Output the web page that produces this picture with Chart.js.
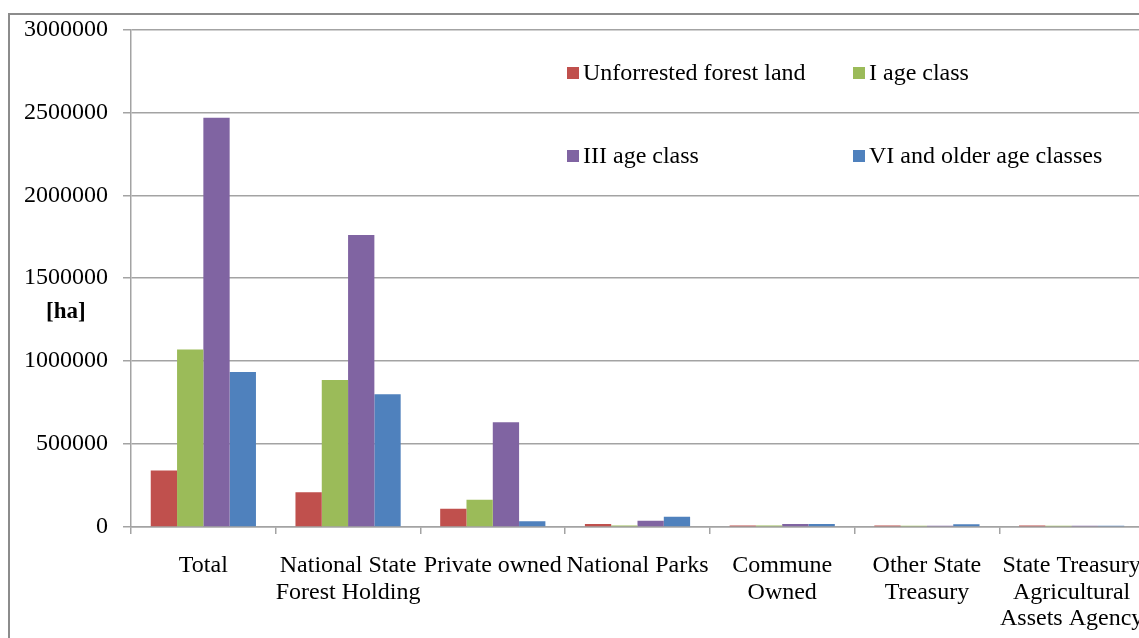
<!DOCTYPE html>
<html>
<head>
<meta charset="utf-8">
<script src="https://cdn.jsdelivr.net/npm/chart.js@4.4.1/dist/chart.umd.min.js"></script>
<style>
  html, body { margin: 0; padding: 0; background: #fff; overflow: hidden; width: 1139px; height: 638px; }
  #frame { position: absolute; left: 8px; top: 13px; width: 2000px; height: 2000px;
           border-left: 2px solid #8c8c8c; border-top: 2px solid #8c8c8c; }
  #wrap { position: absolute; left: 0; top: 0; width: 1200px; height: 638px; }
</style>
</head>
<body>
<div id="frame"></div>
<div id="wrap"><canvas id="c" width="1200" height="638"></canvas></div>
<script>
// Forest area by ownership and age class, in hectares
const categories = [
  'Total',
  ['National State', 'Forest Holding'],
  'Private owned',
  'National Parks',
  ['Commune', 'Owned'],
  ['Other State', 'Treasury'],
  ['State Treasury', 'Agricultural', 'Assets Agency']
];
const seriesNames = ['Unforrested forest land', 'I age class', 'III age class', 'VI and older age classes'];
const unforested = [341000, 210000, 110000, 18000, 9000, 9000, 9000];
const ageClassI = [1070000, 886000, 164000, 9000, 9000, 7000, 7000];
const ageClassIII = [2467000, 1760000, 631000, 37000, 18000, 8000, 7000];
const ageClassVI = [934000, 800000, 34000, 62000, 18000, 17000, 7000];
const yTicks = [0, 500000, 1000000, 1500000, 2000000, 2500000, 3000000];
const unitLabel = '[ha]';

const colors = ['#C0504D', '#9BBB59', '#8064A2', '#4F81BD'];
const FONT = '"Liberation Serif", "Times New Roman", serif';
const GRID = '#a3a3a3';

// Legend laid out as a 2x2 grid inside the plot, plus the unit label
const legendPlugin = {
  id: 'gridLegend',
  afterDraw(chart) {
    const ctx = chart.ctx;
    const cols = [567, 853];
    const rows = [73, 156];
    ctx.save();
    ctx.font = '24px ' + FONT;
    ctx.textBaseline = 'middle';
    ctx.textAlign = 'left';
    chart.data.datasets.forEach((ds, i) => {
      const x = cols[i % 2], y = rows[Math.floor(i / 2)];
      ctx.fillStyle = ds.backgroundColor;
      ctx.fillRect(x, y - 6, 12, 12);
      ctx.fillStyle = '#000';
      ctx.fillText(ds.label, x + 16, y + 1);
    });
    ctx.font = 'bold 23px ' + FONT;
    ctx.fillText(unitLabel, 46, 312);
    ctx.restore();
  }
};

new Chart(document.getElementById('c'), {
  type: 'bar',
  data: {
    labels: categories,
    datasets: [unforested, ageClassI, ageClassIII, ageClassVI].map((d, i) => ({
      label: seriesNames[i],
      data: d,
      backgroundColor: colors[i],
      borderWidth: 0,
      categoryPercentage: 0.727,
      barPercentage: 1.0
    }))
  },
  options: {
    responsive: false,
    animation: false,
    layout: { padding: { left: 0, right: 56, top: 26, bottom: 0 } },
    plugins: { legend: { display: false }, tooltip: { enabled: false } },
    scales: {
      x: {
        grid: { display: true, drawOnChartArea: false, offset: true, tickLength: 7, color: GRID, lineWidth: 1.5 },
        border: { display: true, color: GRID, width: 1.5 },
        ticks: { color: '#000', font: { family: FONT, size: 24, lineHeight: 1.09 }, padding: 19, maxRotation: 0, autoSkip: false },
        afterFit(scale) { scale.height = 111; }
      },
      y: {
        min: 0,
        max: 3000000,
        afterBuildTicks(scale) { scale.ticks = yTicks.map(v => ({ value: v })); },
        grid: { color: GRID, lineWidth: 1.5, tickLength: 8 },
        border: { display: true, color: GRID, width: 1.5 },
        ticks: { color: '#000', font: { family: FONT, size: 24 }, padding: 15, callback: v => String(v) },
        afterFit(scale) { scale.width = 131; }
      }
    }
  },
  plugins: [legendPlugin]
});
</script>
</body>
</html>
